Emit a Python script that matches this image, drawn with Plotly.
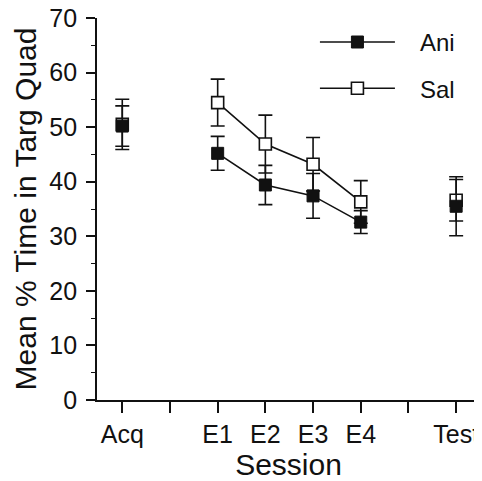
import plotly.graph_objects as go

# ---- data ----
session_axis = ["Acq", " ", "E1", "E2", "E3", "E4", "  ", "Test"]
single_sessions = ["Acq", "Test"]
extinction_sessions = ["E1", "E2", "E3", "E4"]

ani_single_mean = [50.2, 35.5]
ani_single_err = [3.7, 5.4]
sal_single_mean = [50.5, 36.6]
sal_single_err = [4.6, 3.8]

ani_ext_mean = [45.2, 39.4, 37.4, 32.6]
ani_ext_err = [3.1, 3.6, 4.1, 2.1]
sal_ext_mean = [54.5, 46.9, 43.2, 36.3]
sal_ext_err = [4.3, 5.3, 4.9, 3.9]

y_ticks = [0, 10, 20, 30, 40, 50, 60, 70]

FONT = "Liberation Sans, Arial, sans-serif"
BLACK = "#111111"
PAD = "\u00a0\u00a0\u00a0"

def err(arr):
    return dict(type="data", array=arr, visible=True, color=BLACK, thickness=1.6, width=7)

fig = go.Figure()

# Sal (drawn first, under Ani)
fig.add_trace(go.Scatter(
    x=extinction_sessions, y=sal_ext_mean, error_y=err(sal_ext_err),
    mode="lines+markers", name=PAD + "Sal", legendgroup="sal", legendrank=2,
    line=dict(color=BLACK, width=1.6),
    marker=dict(symbol="square", size=12, color="white", line=dict(color=BLACK, width=1.6)),
))
fig.add_trace(go.Scatter(
    x=single_sessions, y=sal_single_mean, error_y=err(sal_single_err),
    mode="markers", name="Sal", showlegend=False, legendgroup="sal",
    marker=dict(symbol="square", size=12, color="white", line=dict(color=BLACK, width=1.6)),
))
# Ani
fig.add_trace(go.Scatter(
    x=extinction_sessions, y=ani_ext_mean, error_y=err(ani_ext_err),
    mode="lines+markers", name=PAD + "Ani", legendgroup="ani", legendrank=1,
    line=dict(color=BLACK, width=1.6),
    marker=dict(symbol="square", size=12, color=BLACK, line=dict(color=BLACK, width=1)),
))
fig.add_trace(go.Scatter(
    x=single_sessions, y=ani_single_mean, error_y=err(ani_single_err),
    mode="markers", name="Ani", showlegend=False, legendgroup="ani",
    marker=dict(symbol="square", size=12, color=BLACK, line=dict(color=BLACK, width=1)),
))

fig.update_layout(
    width=474, height=473,
    margin=dict(l=89, r=2, t=10, b=81, autoexpand=False),
    paper_bgcolor="white", plot_bgcolor="white",
    font=dict(family=FONT, color=BLACK),
    showlegend=True,
    legend=dict(
        x=0.569, y=0.995, xanchor="left", yanchor="top",
        font=dict(size=24, family=FONT, color=BLACK),
        itemwidth=75, tracegroupgap=12,
        bgcolor="rgba(0,0,0,0)",
    ),
    xaxis=dict(
        type="category", categoryorder="array", categoryarray=session_axis,
        range=[-0.53, 7.5], automargin=False, ticklabeloverflow="allow",
        showline=True, linecolor=BLACK, linewidth=1.8,
        ticks="outside", ticklen=11, tickwidth=1.6, tickcolor=BLACK,
        tickfont=dict(size=25, family=FONT, color=BLACK),
        showgrid=False, zeroline=False,
        title=dict(text="Session", font=dict(size=30, family=FONT, color=BLACK), standoff=5),
    ),
    yaxis=dict(
        range=[0, 70], tickvals=y_ticks, automargin=False, ticklabeloverflow="allow",
        showline=True, linecolor=BLACK, linewidth=1.8,
        ticks="outside", ticklen=9, tickwidth=1.6, tickcolor=BLACK,
        ticklabelstandoff=4,
        minor=dict(dtick=5, ticks="outside", ticklen=4, tickwidth=1.4, tickcolor=BLACK),
        tickfont=dict(size=25, family=FONT, color=BLACK),
        showgrid=False, zeroline=False,
        title=dict(text="Mean % Time in Targ Quad", font=dict(size=30, family=FONT, color=BLACK), standoff=4),
    ),
)

fig.write_html("out.html")
